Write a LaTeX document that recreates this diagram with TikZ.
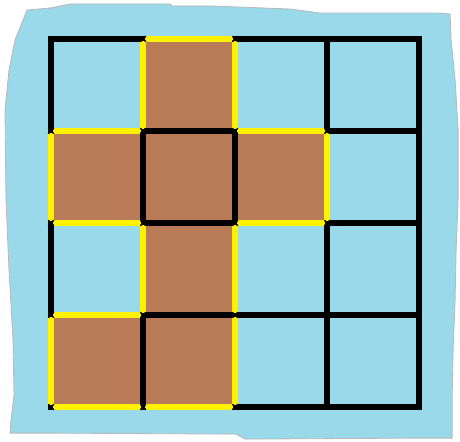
\documentclass[tikz,border=0pt]{standalone}
\usetikzlibrary{arrows.meta,positioning}

\definecolor{water}{RGB}{153,217,234}
\definecolor{shore}{RGB}{185,185,185}
\definecolor{land}{RGB}{185,122,87}
\definecolor{coast}{RGB}{255,242,0}

\begin{document}
\begin{tikzpicture}[x=1cm,y=1cm]
\tikzset{
  gridline/.style={line width=3.8pt,black,line cap=rect},
  coastline/.style={line width=3.8pt,coast,shorten <=1.2pt,shorten >=1.2pt},
  corner/.style={line width=0.9pt,black}
}
\useasboundingbox (0,0) rectangle (10,9.587);
% water blob, in pixels of the original
\begin{scope}[x=0.02174cm,y=-0.02174cm,yshift=9.587cm]
\filldraw[fill=water,draw=shore,line width=0.5pt]
  (27,10) -- (50,8) -- (70,4) -- (170,4) -- (172,6) -- (212,6) -- (290,9)
  -- (320,13) -- (440,13) -- (450,14) -- (451,40) -- (455,80) -- (458,130)
  -- (458,200) -- (456,250) -- (455,300) -- (453,350) -- (452,400)
  -- (452,438) -- (420,438) -- (245,439) -- (236,434) -- (45,433)
  -- (10,433) -- (11,420) -- (14,395) -- (13,340) -- (9,270) -- (6,200)
  -- (5,110) -- (9,70) -- (15,40) -- cycle;
\end{scope}
% grid points
\foreach \i in {0,...,4}
  \foreach \j in {0,...,4}
    \coordinate (g_\i_\j) at ({1.11+2*\i},{0.74+2*\j});
% land
\fill[land] (g_0_0) -- (g_2_0) -- (g_2_2) -- (g_3_2) -- (g_3_3) -- (g_2_3)
  -- (g_2_4) -- (g_1_4) -- (g_1_3) -- (g_0_3) -- (g_0_2) -- (g_1_2)
  -- (g_1_1) -- (g_0_1) -- cycle;
% grid
\foreach \k in {0,...,4} {
  \draw[gridline] (g_0_\k) -- (g_4_\k);
  \draw[gridline] (g_\k_0) -- (g_\k_4);
}
% coast edges
\foreach \a/\b in {0_0/1_0,1_0/2_0,2_0/2_1,2_1/2_2,2_2/3_2,3_2/3_3,3_3/2_3,
    2_3/2_4,2_4/1_4,1_4/1_3,1_3/0_3,0_3/0_2,0_2/1_2,1_2/1_1,1_1/0_1,0_1/0_0}
  \draw[coastline] (g_\a) -- (g_\b);
% corner marks on the coast
\foreach \p in {0_0,1_0,2_0,2_1,2_2,3_2,3_3,2_3,2_4,1_4,1_3,0_3,0_2,1_2,1_1,0_1}
  \draw[corner] ([shift={(-0.06,-0.06)}]g_\p) -- ([shift={(0.06,0.06)}]g_\p)
    ([shift={(-0.06,0.06)}]g_\p) -- ([shift={(0.06,-0.06)}]g_\p);
\end{tikzpicture}
\end{document}
